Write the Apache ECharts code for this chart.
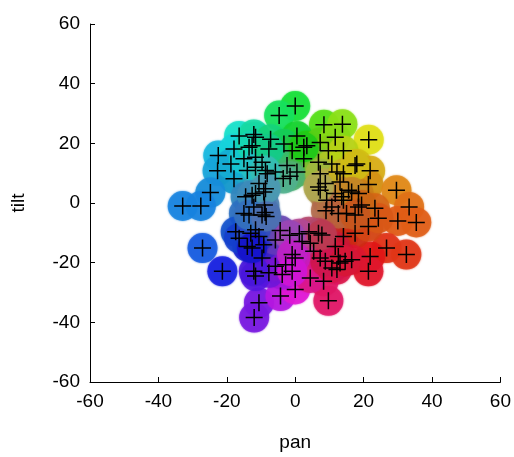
<!DOCTYPE html>
<html>
<head>
<meta charset="utf-8">
<script src="https://cdn.jsdelivr.net/npm/echarts@6/dist/echarts.min.js"></script>
<style>
  html, body { margin: 0; padding: 0; background: #fff; }
  #chart-container { width: 514px; height: 457px; }
</style>
</head>
<body>
<div id="chart-container"></div>
<script>
// pan / tilt positions
var pan = [
  0, -4.7, 8.4, 13.8, 21.5,
  -16.4, -12.1, -22.5, -17.9, -13.5, -22.7, -17.9, -14, -18.8, -15, -11.6, -14.5, -24.8,
  -32.9, -27.6, -27.1, -21.3,
  -11.6, -7.2, 0.5, -3.3, 3.4, 7.3, 11.7, 9.7, -0.9, -12.6, -9.7, -5.8, -2.4, 2.5, 0.5, -1.5,
  6.8, 10.7, 12.2, 7.3, 8.8, 13.1, 7.3, 11.7, 9.2, 14.1, -11.6, -9.2, -10.6, -8.2, -11.6,
  -12.1, -9, -3.5, 14.1,
  18, 21.9, 21.4, 14.1, 29.6, 33.3, 30, 35.4, 15.6, 18.5, 23.3, 18.5, 13.6,
  26.7, 32.5, 21.9, 21.4, 14.1, 17.5, 16.5, 21.4, 24.3, 15, 13.1, 12.2, 9, 10.7, 12.6,
  11.7, 12.6, 7.3, 5.4, 6.8, 4.4, 4, 2, 1.2,
  9.7, -12, -10.6, -4.3, 8.3, 0, 4.4, 10.7, 8.8, -3.8, -2.8, -7.7, 0, -9.7, -11.6, -5.8,
  -9.2, -5.8, -10.6, -4.4, -1.6, -9.7, -8.8, -11.6, -12.1, -15, -17.4, -14, -16.4, -13,
  -7.7, 2.5, -8.7, 17.5, 6.8, 16.5, 19.4, 17.5, -12.6, -8.7, -13.5, -8.5, 7.8,
  -12.6, -0.9, -0.9, 14.6
];
var tilt = [
  32.5, 29.3, 26.2, 26.4, 21.2,
  22.5, 23, 15.9, 18.1, 18.7, 10.8, 8.1, 10.9, 13.1, 14.8, 15.3, 2.1, 3.5,
  -1, -1, -15.1, -22.9,
  22, 21.4, 22.5, 19.8, 19.2, 20.3, 22, 17.5, 17.5, 19.2, 13.7, 10.4, 12.6, 14.8, 10.4, 9,
  13.7, 13.1, 10.4, 9.8, 6.5, 7, 4.3, 3.2, 0.9, 0.9, 3.2, 3.7, 6.5, 9.8, 12,
  -1.3, -0.7, 8.2, 17.5,
  13.1, 10.8, 6.2, 9.8, 4.3, -1.3, -6, -6.5, 4.3, 3.2, -1.8, -1.3, 2.1,
  -15.1, -17.3, -17.9, -22.9, -11.2, -10.1, -19, -7.9, -5.1, -3.5, -20.1, -22.3, -2.6, -1.3, -3.5,
  -14.6, -17.9, -18.4, -16.2, -10.1, -13.5, -9.6, -12.9, -10.3,
  -32.8, -38.4, -33.4, -31.2, -26.2, -29, -25.1, -21.8, -19.5, -24, -20.7, -23.4, -18.4, -18.4, -24.5, -21.2,
  -14, -12.4, -11.2, -9.2, -10.8, -4, -3.2, -9, -22.9, -3.5, -9.6, -14.6, -11.8, -10.1,
  18.1, 18.7, 10.9, 12.6, 5.4, 3.7, -0.7, -4, 2.6, 4.8, -4, -4.5, -10.7,
  -15.1, -17.3, -22.9, -19.5
];
var axisTicks = [-60, -40, -20, 0, 20, 40, 60];

var points = pan.map(function (x, i) { return [x, tilt[i]]; });

// hue follows the direction from the centre, saturation the distance
var hueStops = [[-180, 207], [-150, 220], [-130, 240], [-105, 272], [-75, 335], [-45, 355],
  [-25, 372], [0, 388], [45, 420], [62, 445], [90, 490], [126, 533], [144, 552], [180, 567]];

function hueAt(a) {
  for (var i = 1; i < hueStops.length; i++) {
    if (a <= hueStops[i][0]) {
      var p = hueStops[i - 1], q = hueStops[i];
      return p[1] + (q[1] - p[1]) * (a - p[0]) / (q[0] - p[0]);
    }
  }
  return hueStops[hueStops.length - 1][1];
}

function hsv(h, s, v) {
  h = ((h % 360) + 360) % 360 / 60;
  var c = v * s, x = c * (1 - Math.abs(h % 2 - 1)), m = v - c;
  var rgb = h < 1 ? [c, x, 0] : h < 2 ? [x, c, 0] : h < 3 ? [0, c, x] :
            h < 4 ? [0, x, c] : h < 5 ? [x, 0, c] : [c, 0, x];
  return 'rgb(' + rgb.map(function (t) { return Math.round((t + m) * 255); }).join(',') + ')';
}

function colorFor(x, y) {
  var r = Math.sqrt(x * x + y * y);
  var a = Math.atan2(y, x) * 180 / Math.PI;
  var s = Math.min(0.9, 0.25 + r / 30);
  var v = 0.6 + 0.28 * Math.min(1, r / 28);
  return hsv(hueAt(a), s, v);
}

var blobs = points.map(function (p) {
  var c = colorFor(p[0], p[1]);
  return { value: p, itemStyle: { color: c, shadowColor: c, shadowBlur: 2 } };
});

var dom = document.getElementById('chart-container');
var myChart = echarts.init(dom, null, { renderer: 'canvas' });

var axisCommon = {
  type: 'value',
  min: -60,
  max: 60,
  interval: 20,
  nameLocation: 'middle',
  nameTextStyle: { color: '#000', fontSize: 19, fontFamily: 'Liberation Sans' },
  axisLine: { show: true, onZero: false, lineStyle: { color: '#000', width: 1 } },
  axisTick: { show: true, inside: true, length: 5, lineStyle: { color: '#000' } },
  axisLabel: {
    color: '#000', fontSize: 19, fontFamily: 'Liberation Sans', margin: 10,
    formatter: function (v) { return axisTicks.indexOf(v) >= 0 ? String(v) : ''; }
  },
  splitLine: { show: false }
};

var option = {
  animation: false,
  backgroundColor: '#fff',
  grid: { left: 90, right: 11, top: 24, bottom: 72 },
  xAxis: Object.assign({}, axisCommon, { name: 'pan', nameGap: 51 }),
  yAxis: Object.assign({}, axisCommon, { name: 'tilt', nameGap: 62, nameRotate: 90 }),
  series: [
    {
      type: 'scatter',
      data: blobs,
      symbol: 'circle',
      symbolSize: 30,
      z: 1
    },
    {
      type: 'scatter',
      data: points,
      symbol: 'path://M0,10L20,10M10,0L10,20',
      symbolSize: 17,
      itemStyle: { color: 'rgba(0,0,0,0)', borderColor: '#000', borderWidth: 1.5, opacity: 1 },
      z: 2
    }
  ]
};

myChart.setOption(option);
window.addEventListener('resize', myChart.resize);
</script>
</body>
</html>
